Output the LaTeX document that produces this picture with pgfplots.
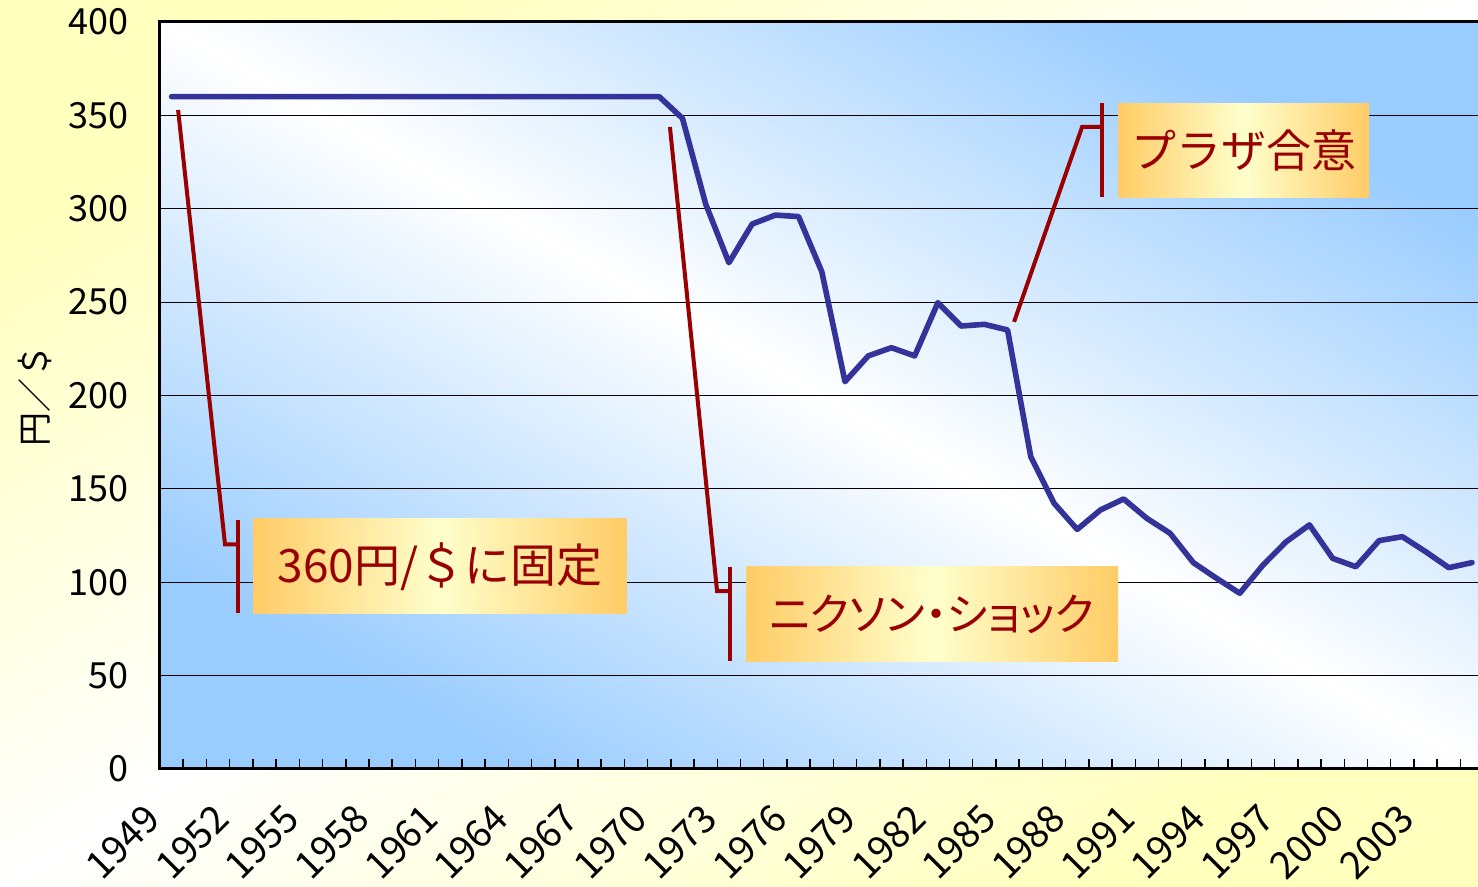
\documentclass[border=0pt]{standalone}
\usepackage{pgfplots}
\pgfplotsset{compat=1.18}
\usepackage{fontspec}
\setmainfont{Noto Sans CJK JP}
\newfontfamily\jpp{Noto Sans CJK JP}[RawFeature=+palt]
\definecolor{bgyellow}{RGB}{255,255,190}
\definecolor{plotblue}{RGB}{153,204,255}
\definecolor{lineblue}{RGB}{51,51,153}
\definecolor{callred}{RGB}{153,0,0}
\definecolor{boxorange}{RGB}{255,204,102}
\definecolor{boxlight}{RGB}{255,255,204}
\pgfplotstableread{
i val
0 360
1 360
2 360
3 360
4 360
5 360
6 360
7 360
8 360
9 360
10 360
11 360
12 360
13 360
14 360
15 360
16 360
17 360
18 360
19 360
20 360
21 360
22 348.4
23 302.5
24 271.1
25 291.8
26 296.6
27 295.8
28 266.3
29 207.4
30 221.2
31 225.6
32 221.2
33 249.7
34 237.2
35 238.1
36 235.1
37 167.2
38 142.3
39 128.3
40 138.7
41 144.6
42 134.2
43 126.2
44 110.5
45 102.1
46 94.1
47 109.2
48 121.7
49 130.7
50 112.8
51 108.3
52 122.3
53 124.4
54 116.4
55 107.8
56 110.5
}\rates
\begin{document}
\begin{tikzpicture}
\shade[top color=bgyellow, bottom color=bgyellow, middle color=white, shading angle=31] (-80pt,-59pt) rectangle (659pt,384.5pt);
\begin{axis}[
  at={(0,0)}, anchor=south west,
  scale only axis, width=661.8pt, height=373.5pt,
  xmin=-0.5, xmax=56.5, ymin=0, ymax=400,
  ytick={0,50,...,400},
  xtick={0,3,...,54},
  xticklabels={1949,1952,1955,1958,1961,1964,1967,1970,1973,1976,1979,1982,1985,1988,1991,1994,1997,2000,2003},
  minor xtick={-0.5,0.5,...,56.5},
  major tick length=0pt, minor tick length=5pt,
  tick pos=left,
  tick style={black, line width=0.75pt},
  ymajorgrids, grid style={black, line width=0.5pt},
  axis line style={line width=1.5pt},
  axis background/.style={shade, top color=plotblue, bottom color=plotblue, middle color=white, shading angle=-29.5},
  /pgf/number format/assume math mode=true,
  yticklabel style={font=\fontsize{18}{20}\selectfont, anchor=east, xshift=-12pt},
  xticklabel style={font=\fontsize{19}{21}\selectfont, xshift=-14.5pt, yshift=-16.5pt, rotate=45, anchor=north east, inner sep=0pt},
  ylabel={円／＄},
  every axis y label/.style={at={(axis description cs:-0.0944,0.5)}, rotate=90, anchor=center, font=\fontsize{17}{20}\selectfont},
]
\addplot[lineblue, line width=2.8pt, line join=round, line cap=round, mark=none] table[x=i, y=val] {\rates};
% callout 1
\draw[callred, line width=2pt] (axis cs:0.28,352.9) -- (axis cs:2.30,120.3) -- (axis cs:2.86,120.3);
\draw[callred, line width=2pt] (axis cs:2.86,133.3) -- (axis cs:2.86,83.5);
\shade[left color=boxorange, right color=boxorange, middle color=boxlight] (axis cs:3.51,83.0) rectangle (axis cs:19.60,133.9);
\node[text=callred, font=\fontsize{23}{26}\selectfont] at (axis cs:11.555,108.45) {360円/＄に固定};
% callout 2
\draw[callred, line width=2pt] (axis cs:21.46,343.8) -- (axis cs:23.49,95.3) -- (axis cs:24.05,95.3);
\draw[callred, line width=2pt] (axis cs:24.05,108.2) -- (axis cs:24.05,57.8);
\shade[left color=boxorange, right color=boxorange, middle color=boxlight] (axis cs:24.74,57.8) rectangle (axis cs:40.76,108.2);
\node[text=callred, font=\jpp\fontsize{22}{26}\selectfont] at (axis cs:32.75,83) {ニクソン・ショック};
% callout 3
\draw[callred, line width=2pt] (axis cs:36.28,239.4) -- (axis cs:39.21,343.8) -- (axis cs:40.07,343.8);
\draw[callred, line width=2pt] (axis cs:40.07,356.6) -- (axis cs:40.07,306.3);
\shade[left color=boxorange, right color=boxorange, middle color=boxlight] (axis cs:40.76,305.8) rectangle (axis cs:51.57,356.6);
\node[text=callred, font=\fontsize{22.5}{26}\selectfont] at (axis cs:46.17,331.2) {プラザ合意};
\end{axis}
\pgfresetboundingbox
\useasboundingbox (-80pt,-59pt) rectangle (659pt,384.5pt);
\end{tikzpicture}
\end{document}
